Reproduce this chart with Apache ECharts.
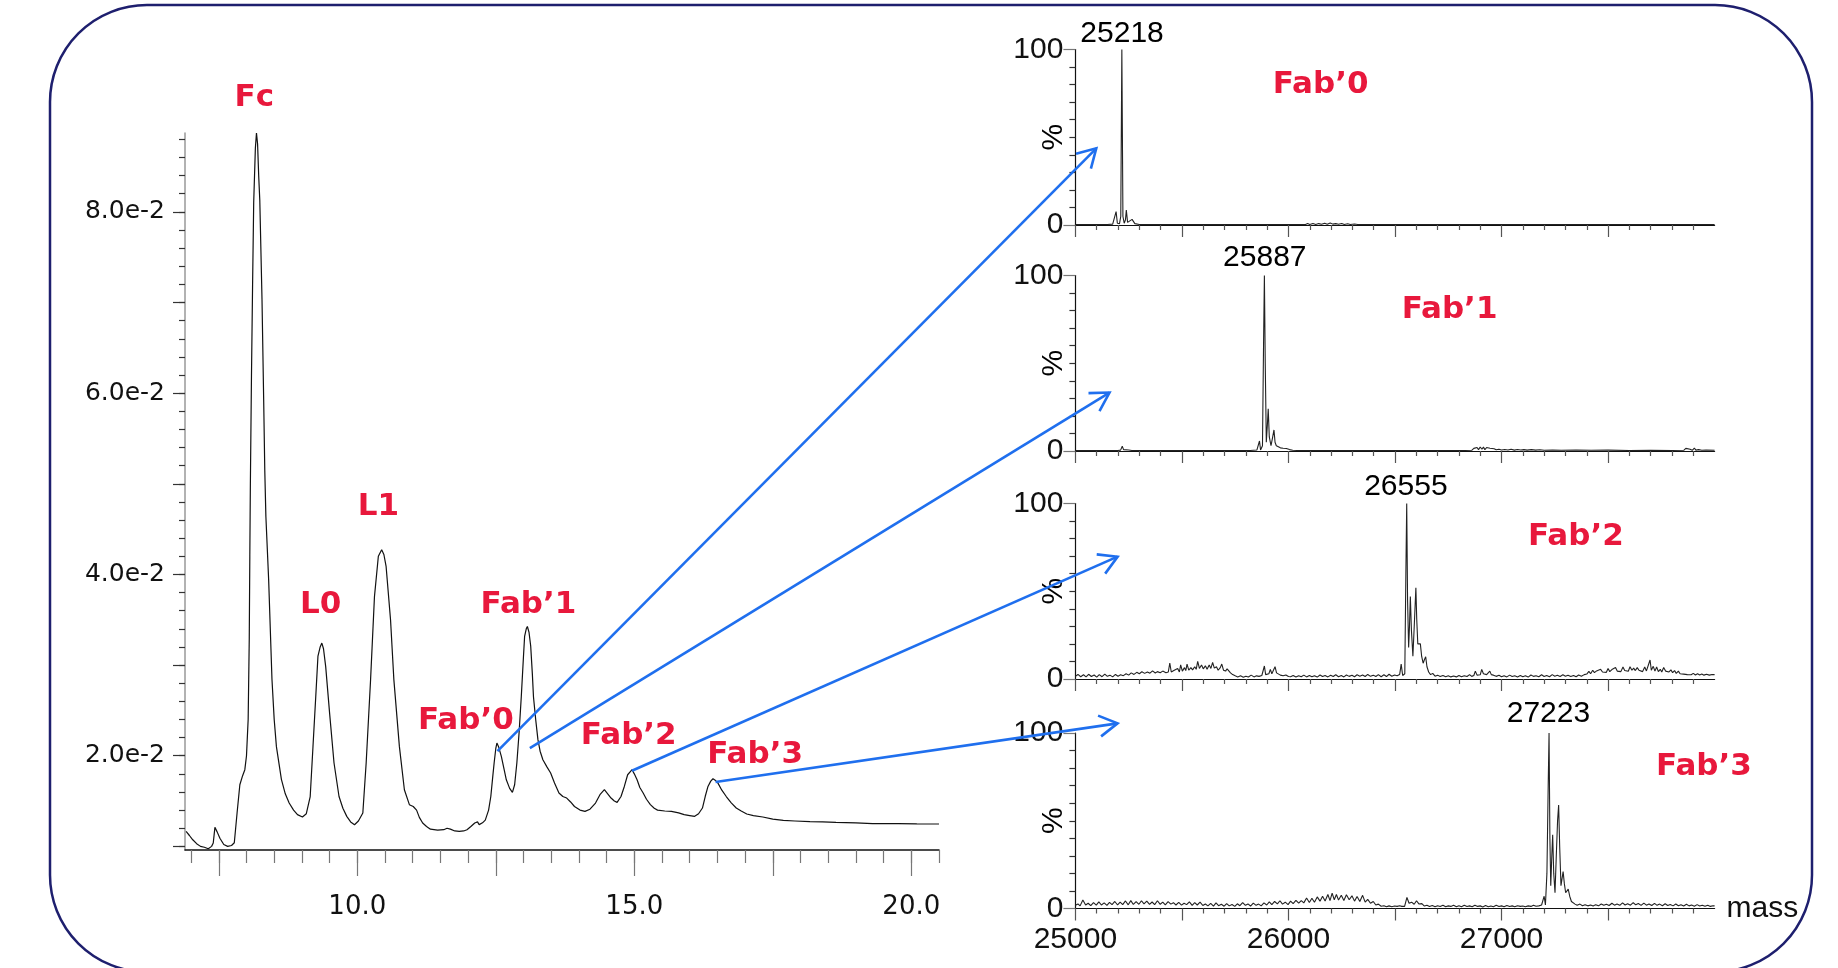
<!DOCTYPE html>
<html>
<head>
<meta charset="utf-8">
<script src="https://cdn.jsdelivr.net/npm/echarts@6/dist/echarts.min.js"></script>
<style>
html,body{margin:0;padding:0;background:#fff;}
#c{width:1838px;height:968px;}
</style>
</head>
<body>
<div id="c"></div>
<script>
// ---------------- Chromatogram (left) ----------------
const chromTime = [6.91,6.97,7.03,7.10,7.17,7.20,7.24,7.31,7.37,7.40,7.43,7.47,7.52,7.59,7.66,7.73,7.78,7.83,7.88,7.93,7.97,
  8.00,8.03,8.05,8.06,8.07,8.09,8.11,8.13,8.16,8.18,8.20,8.22,8.24,8.28,8.31,8.33,8.35,8.40,8.46,8.50,8.54,8.63,8.70,8.77,8.85,8.92,9.01,9.08,
  9.15,9.20,9.25,9.29,9.33,9.36,9.39,9.43,9.50,9.58,9.67,9.74,9.81,9.88,9.95,10.02,
  10.10,10.16,10.24,10.31,10.38,10.44,10.48,10.52,10.60,10.66,10.76,10.85,10.94,11.01,11.04,11.07,11.12,11.18,11.25,11.32,11.45,11.56,11.62,11.68,11.76,11.84,11.92,11.98,12.05,12.12,12.17,12.20,12.26,12.31,12.37,12.41,12.45,12.47,12.50,12.52,12.55,12.60,12.65,12.69,12.75,12.80,
  12.84,12.88,12.92,12.96,13.00,13.02,13.05,13.07,13.10,13.13,13.16,13.18,13.22,13.26,13.30,13.35,13.42,13.49,13.56,13.64,13.71,13.78,13.85,13.92,14.02,14.11,
  14.20,14.30,14.38,14.46,14.52,14.58,14.64,14.69,14.76,14.82,14.88,14.96,15.00,15.05,15.10,15.16,15.22,15.29,15.36,15.42,15.55,15.67,15.80,15.90,16.00,16.09,
  16.16,16.23,16.28,16.33,16.38,16.42,16.46,16.51,16.58,16.66,16.75,16.84,16.93,17.03,17.15,17.32,17.50,17.69,17.90,18.17,18.40,18.64,19.00,19.30,19.77,20.10,20.50];
const chromAbs = [0.01165,0.0112,0.01073,0.0103,0.0100,0.0101,0.0099,0.00974,0.0100,0.01037,0.0121,0.0116,0.0109,0.0102,0.0100,0.0101,0.0104,0.01368,0.0168,0.0178,0.01846,
  0.0200,0.0240,0.0330,0.0420,0.0500,0.0620,0.0720,0.0810,0.0870,0.0887,0.0875,0.0840,0.0813,0.0703,0.0593,0.0515,0.0464,0.0394,0.0284,0.0240,0.0210,0.0174,0.0158,0.01478,0.0140,0.0135,0.01324,0.0136,
  0.0155,0.0210,0.0265,0.0310,0.0320,0.03243,0.0318,0.0298,0.0247,0.0192,0.0155,0.0142,0.01331,0.0127,0.01239,0.0128,
  0.01368,0.0192,0.0284,0.03757,0.0420,0.04273,0.0422,0.04088,0.0350,0.0284,0.0210,0.01625,0.0146,0.0144,0.0145,0.0140,0.0132,0.01258,0.0122,0.0119,0.0118,0.01184,0.0120,0.0119,0.0117,0.01165,0.0117,0.01184,0.0122,0.01258,0.0127,0.0124,0.0126,0.0129,0.0140,0.0155,0.0180,0.0192,0.0208,0.0214,0.0210,0.01993,0.0185,0.01735,0.0164,0.01595,
  0.0168,0.0192,0.0225,0.0265,0.0310,0.03316,0.0340,0.03426,0.0336,0.0321,0.0290,0.0265,0.0240,0.0218,0.0205,0.01956,0.0188,0.0181,0.0170,0.01589,0.0155,0.01533,0.0149,0.0144,0.0140,0.01386,
  0.0141,0.01478,0.0157,0.01625,0.0158,0.01533,0.0150,0.01485,0.0155,0.01661,0.0179,0.01846,0.0180,0.01735,0.0165,0.01589,0.0152,0.0146,0.0142,0.0140,0.0139,0.01386,0.0137,0.0135,0.0134,0.01331,
  0.0136,0.01423,0.0155,0.01661,0.0172,0.01746,0.0173,0.01698,0.0162,0.0155,0.0148,0.01423,0.0139,0.01357,0.0134,0.01324,0.0130,0.01286,0.0128,0.01272,0.0127,0.01264,0.0126,0.0125,0.0125,0.01248,0.01247];

const chromXMajorTicks = [7.5,10,12.5,15,17.5,20];
const chromXMinorTicks = [7,7.5,8,8.5,9,9.5,10,10.5,11,11.5,12,12.5,13,13.5,14,14.5,15,15.5,16,16.5,17,17.5,18,18.5,19,19.5,20,20.5];
const chromXLabels = [10,15,20];
const chromYMajorTicks = [0.01,0.02,0.03,0.04,0.05,0.06,0.07,0.08];
const chromYMinorTicks = [0.010,0.012,0.014,0.016,0.018,0.020,0.022,0.024,0.026,0.028,0.030,0.032,0.034,0.036,0.038,0.040,0.042,0.044,0.046,0.048,0.050,0.052,0.054,0.056,0.058,0.060,0.062,0.064,0.066,0.068,0.070,0.072,0.074,0.076,0.078,0.080,0.082,0.084,0.086,0.088];
const chromYLabels = [0.02,0.04,0.06,0.08];

const chromLabels = ['Fc','L0','L1','Fab\u20190','Fab\u20191','Fab\u20192','Fab\u20193'];
const chromLabelX = [8.14,9.34,10.38,11.96,13.09,14.90,17.18];
const chromLabelY = [0.0926,0.03666,0.04747,0.02386,0.03666,0.02221,0.02011];

// ---------------- Mass spectra (right) ----------------
const specFab0 = [[25000,0.3],[25150,0.3],[25175,0.5],[25184,1.5],[25191,7.6],[25197,1.0],[25207,0.8],[25213,5],[25218,100],[25223,5],[25229,1.0],[25235,3],[25239,8.5],[25245,1.5],[25254,2.5],[25266,3.2],[25279,0.8],[25300,0.3],
  [25600,0.2],[26000,0.3],[26080,0.3],[26090,0.8],[26100,0.3],[26115,0.9],[26128,0.3],[26142,0.8],[26155,0.4],[26170,1.0],[26182,0.4],[26196,1.2],[26208,0.5],[26222,0.8],[26235,0.4],[26250,0.9],[26262,0.3],[26278,0.7],[26290,0.3],[26310,0.6],[26325,0.3],
  [26540,0.3],[26547,0.9],[26555,0.3],[26800,0.3],[27145,0.3],[27153,0.9],[27162,0.3],[27600,0.3],[27895,0.3],[27904,0.9],[27913,0.3],[28000,0.3]];

const specFab1 = [[25000,0.2],[25100,0.2],[25200,0.3],[25212,0.5],[25220,2.7],[25226,0.8],[25235,0.5],[25250,0.6],[25265,0.3],[25400,0.2],[25700,0.2],[25820,0.3],[25852,0.6],
  [25864,5.7],[25869,0.6],[25878,3],[25883,60],[25887,100],[25891,50],[25896,5],[25901,15],[25905,24],[25910,8],[25918,3],[25926,8],[25932,12],[25937,5],[25943,3],[25950,2.2],[25962,1.8],[25975,1.6],[25990,1.4],[26005,0.8],[26020,0.4],[26040,0.3],
  [26300,0.2],[26600,0.2],[26830,0.3],[26860,0.4],[26870,1.5],[26878,0.6],[26885,2.0],[26892,0.8],[26900,2.3],[26908,1.0],[26915,2.2],[26922,0.8],[26930,2.0],[26938,0.9],[26946,1.6],[26955,0.8],[26965,1.3],[26975,0.7],[26988,1.0],
  [27000,0.6],[27015,0.9],[27030,0.6],[27045,1.0],[27060,0.5],[27075,0.9],[27090,0.6],[27105,0.8],[27120,0.5],[27140,0.8],[27160,0.5],[27180,0.7],[27200,0.4],[27240,0.6],[27280,0.4],[27350,0.6],[27420,0.4],[27500,0.5],[27600,0.3],[27700,0.4],[27800,0.3],
  [27855,0.4],[27865,1.5],[27872,0.5],[27885,1.0],[27895,0.4],[27905,1.7],[27912,0.5],[27925,0.8],[27940,0.4],[27960,0.6],[28000,0.4]];

const specFab2 = [[25000,1.5],[25012,2.6],[25025,1.3],[25038,2.4],[25050,1.2],[25062,2.7],[25075,1.4],[25088,2.3],[25100,1.1],[25112,2.5],[25125,1.3],[25138,2.8],[25150,1.5],[25162,2.2],[25175,1.2],[25188,2.6],[25200,1.6],[25212,2.4],[25225,1.9],[25238,3.0],
  [25250,2.2],[25262,3.5],[25275,2.6],[25288,3.8],[25300,3.0],[25312,4.1],[25325,3.2],[25338,4.0],[25350,3.3],[25362,4.6],[25375,3.4],[25385,4.2],[25398,3.6],[25410,4.5],[25425,3.6],[25436,4.0],
  [25443,9.0],[25450,4.0],[25462,4.8],[25470,3.8],[25480,6.0],[25488,4.0],[25494,8.0],[25502,4.5],[25512,6.5],[25518,4.8],[25524,8.5],[25532,5.0],[25542,6.5],[25550,5.2],[25560,7.0],[25567,5.5],[25574,10.0],[25582,6.0],[25592,8.0],[25600,5.8],
  [25610,7.5],[25618,5.5],[25628,8.0],[25636,6.0],[25644,9.5],[25652,6.2],[25662,7.0],[25670,5.0],[25680,6.5],[25687,8.5],[25695,5.0],[25705,4.5],[25712,5.8],[25719,6.6],[25728,3.5],[25738,2.5],[25750,1.8],[25762,1.2],[25775,1.8],[25788,1.0],
  [25800,1.6],[25812,1.1],[25825,2.2],[25838,1.2],[25850,1.8],[25862,1.5],[25875,2.0],[25887,7.4],[25893,2.5],[25900,3.5],[25908,3.0],[25915,5.5],[25922,3.0],[25930,4.0],[25937,7.0],[25944,3.5],[25952,3.0],[25962,2.2],[25975,1.8],[25988,2.3],
  [26000,1.4],[26010,1.3],[26022,2.0],[26035,1.1],[26048,1.9],[26060,1.3],[26072,2.2],[26085,1.2],[26098,2.0],[26110,1.3],[26122,1.9],[26135,1.1],[26148,2.3],[26160,1.4],[26172,2.0],[26185,1.2],[26198,2.1],[26210,1.4],[26222,2.4],[26235,1.3],
  [26248,2.0],[26260,1.2],[26272,2.3],[26285,1.5],[26298,2.1],[26310,1.3],[26322,2.4],[26335,1.6],[26348,2.3],[26360,1.4],[26372,2.6],[26385,1.5],[26398,2.2],[26410,1.4],[26422,2.5],[26435,1.3],[26448,2.4],[26460,1.4],[26472,2.7],[26485,1.6],
  [26498,2.3],[26510,1.8],[26522,2.6],[26529,8.5],[26536,2.0],[26546,3],[26551,60],[26555,100],[26559,45],[26564,18],[26568,30],[26572,47],[26577,28],[26584,13],[26591,32],[26598,52],[26602,34],[26607,20],[26613,19],[26619,20],[26625,13],
  [26632,9],[26638,11],[26644,12.7],[26650,7],[26658,4],[26667,2.5],[26677,3.2],[26688,1.6],[26700,2.2],[26712,1.4],[26725,2.0],[26738,1.3],[26750,1.8],[26762,1.2],[26775,1.7],[26788,1.2],[26800,2.0],[26812,1.3],[26825,1.9],[26838,1.4],
  [26850,2.5],[26860,1.5],[26870,2.0],[26877,4.5],[26885,2.2],[26893,3.0],[26900,2.4],[26907,5.5],[26915,3.0],[26922,3.4],[26930,2.5],[26938,3.6],[26945,4.5],[26952,2.5],[26962,2.2],[26975,1.5],[26988,2.1],
  [27000,1.3],[27012,1.9],[27025,1.2],[27038,2.2],[27050,1.4],[27062,1.8],[27075,1.2],[27088,2.0],[27100,1.3],[27112,1.8],[27125,1.1],[27138,2.3],[27150,1.5],[27162,1.9],[27175,1.3],[27188,2.4],[27200,1.4],[27212,2.0],[27225,1.3],[27238,2.5],
  [27250,1.6],[27262,2.1],[27275,1.4],[27288,2.4],[27300,1.6],[27312,2.2],[27325,1.4],[27338,2.0],[27350,1.3],[27362,2.3],[27375,1.6],[27388,2.5],[27400,2.8],[27410,4.3],[27418,3.0],[27428,5.0],[27436,3.6],[27446,4.6],[27455,3.8],[27465,5.5],
  [27474,4.0],[27483,5.0],[27492,3.8],[27500,6.0],[27508,4.2],[27518,5.4],[27526,4.5],[27535,6.5],[27543,4.5],[27552,5.6],[27560,4.2],[27570,6.8],[27578,4.8],[27586,5.5],[27595,4.4],[27603,7.0],[27612,5.0],[27620,6.2],[27628,4.8],[27637,6.5],
  [27645,5.0],[27654,5.5],[27662,4.2],[27672,6.8],[27680,4.6],[27688,5.2],[27697,10.8],[27703,5.0],[27712,7.2],[27720,4.5],[27728,6.8],[27736,4.2],[27745,5.5],[27752,4.0],[27761,6.5],[27770,4.5],[27778,5.6],[27786,4.0],[27795,5.2],[27803,3.6],
  [27812,4.8],[27820,3.2],[27830,4.5],[27838,3.0],[27847,4.0],[27855,2.8],[27864,3.6],[27872,2.5],[27880,3.4],[27890,2.4],[27900,3.2],[27910,2.3],[27920,3.0],[27930,2.3],[27940,2.8],[27950,2.2],[27962,2.7],[27975,2.2],[27988,2.6],[28000,2.5]];

const specFab3 = [[25000,1.8],[25012,2.6],[25022,1.5],[25035,4.8],[25048,2.0],[25060,3.0],[25072,1.6],[25085,3.4],[25098,1.9],[25110,3.8],[25122,2.0],[25135,3.2],[25148,1.8],[25160,3.5],[25172,2.2],[25185,4.0],[25198,2.0],[25210,3.6],[25222,2.2],[25235,4.3],
  [25248,2.1],[25260,4.5],[25272,2.3],[25285,3.9],[25298,2.4],[25310,4.4],[25322,2.6],[25335,4.2],[25348,2.3],[25360,3.7],[25372,2.2],[25385,4.4],[25398,2.4],[25410,3.6],[25422,2.1],[25435,3.9],[25448,2.5],[25460,3.3],[25472,2.0],[25485,3.5],
  [25498,1.9],[25510,3.0],[25522,2.2],[25535,3.8],[25548,1.8],[25560,3.3],[25572,2.0],[25585,3.6],[25598,1.7],[25610,2.6],[25622,1.5],[25635,2.9],[25648,1.4],[25660,3.2],[25672,1.6],[25685,2.4],[25698,1.3],[25710,2.8],[25722,1.5],[25735,2.3],
  [25748,1.2],[25760,2.7],[25772,1.6],[25785,3.4],[25798,1.8],[25810,2.6],[25822,1.4],[25835,3.1],[25848,1.8],[25860,2.5],[25872,1.5],[25885,3.2],[25898,2.0],[25910,3.8],[25922,2.2],[25935,4.0],[25948,2.6],[25960,4.4],[25972,2.5],[25985,3.6],
  [25998,2.2],[26010,4.2],[26022,2.8],[26035,4.6],[26048,3.0],[26060,4.5],[26072,3.2],[26085,6.0],[26098,3.4],[26110,5.8],[26122,3.6],[26135,6.6],[26148,4.2],[26160,7.0],[26172,4.3],[26185,8.0],[26195,4.5],[26205,8.8],[26215,5.0],[26225,8.0],
  [26235,4.8],[26248,7.6],[26260,4.6],[26272,7.8],[26285,5.0],[26298,7.2],[26310,4.2],[26322,6.8],[26335,4.0],[26348,7.5],[26360,3.6],[26372,5.2],[26385,3.0],[26398,4.0],[26410,2.0],[26422,2.5],[26435,1.3],[26448,1.6],[26460,1.0],[26472,1.5],
  [26485,1.0],[26498,1.4],[26510,1.2],[26522,1.6],[26532,1.2],[26545,1.2],[26556,6.3],[26566,3.0],[26578,3.6],[26590,2.4],[26601,4.4],[26612,2.6],[26626,2.8],[26638,1.4],[26650,1.8],[26662,1.1],[26675,1.7],[26688,1.0],[26700,1.6],[26712,1.1],
  [26725,1.9],[26738,1.0],[26750,1.5],[26762,1.2],[26775,1.8],[26788,1.0],[26800,1.6],[26812,1.0],[26825,1.8],[26838,1.1],[26850,1.5],[26862,1.0],[26875,1.9],[26888,1.2],[26900,1.5],[26912,0.9],[26925,1.7],[26938,1.0],[26950,1.4],[26962,1.0],
  [26975,1.8],[26988,1.1],[27000,1.5],[27012,1.0],[27025,1.7],[27038,1.1],[27050,1.5],[27062,1.0],[27075,1.6],[27088,1.2],[27100,1.4],[27112,1.0],[27125,1.5],[27138,1.2],[27150,1.9],[27162,1.3],[27175,1.5],[27188,2.0],[27200,7.0],[27206,2.0],
  [27213,20],[27219,70],[27223,100],[27227,40],[27231,13],[27236,30],[27240,42],[27245,20],[27251,9],[27257,30],[27263,50],[27268,59],[27273,35],[27279,13],[27284,17],[27289,21],[27295,14],[27301,9],[27307,10],[27313,11],[27320,7],[27328,4],
  [27336,3],[27345,2.5],[27355,1.8],[27368,2.5],[27380,1.6],[27392,2.2],[27405,1.5],[27418,2.0],[27430,1.4],[27442,2.2],[27455,1.5],[27468,2.6],[27480,1.8],[27492,2.4],[27505,1.7],[27518,3.0],[27530,1.9],[27542,2.6],[27555,1.8],[27568,3.2],
  [27580,2.0],[27592,2.7],[27605,1.9],[27618,3.3],[27630,2.1],[27642,2.8],[27655,1.8],[27668,3.1],[27680,1.9],[27692,2.6],[27705,1.7],[27718,2.9],[27730,1.8],[27742,2.5],[27755,1.6],[27768,2.7],[27780,1.7],[27792,2.3],[27805,1.5],[27818,2.6],
  [27830,1.6],[27842,2.2],[27855,1.4],[27868,2.4],[27880,1.5],[27892,2.0],[27905,1.3],[27918,2.2],[27930,1.4],[27942,1.9],[27955,1.3],[27968,1.8],[27980,1.2],[27992,1.6],[28000,1.5]];

const spectra = [specFab0, specFab1, specFab2, specFab3];
const massMajorTicks = [25000,25500,26000,26500,27000,27500];
const massLabels = [25000,26000,27000];
const specNames = ['Fab\u20190','Fab\u20191','Fab\u20192','Fab\u20193'];
const specNameMass = [26151,26756,27349,27950];
const specNamePct = [80.0,80.3,81.2,80.6];
const peakLabels = ['25218','25887','26555','27223'];
const peakLabelMass = [25219,25889,26551,27220];
const peakLabelPct = [108.8,110.3,109.8,111.0];
const pctAxisName = '%';
const pctNameMass = 24900;
const pctNamePct = 50;

// arrows: start on chromatogram (time, abs), end on spectrum (mass, %)
const arrowFrom = [[12.53,0.0205],[13.115,0.02085],[14.957,0.01835],[16.467,0.0171]];
const arrowTo = [[25098,43.7],[25160,33.3],[25198,69.7],[25198,105.5]];

// ---------------- Build chart ----------------
const FONT_L = 'DejaVu Sans';
const FONT_R = 'Liberation Sans';
const RED = '#e8183c';
const BLUE = '#1f6fee';
const INVISIBLE = {color:'rgba(0,0,0,0)', opacity:1};

const specTops = [49.5, 275.5, 503.5, 733];
const grid = [{left:185, top:133, width:754, height:717}];
specTops.forEach(t => grid.push({left:1075.4, top:t, width:639.2, height:175.5}));

const xAxis = [
  {gridIndex:0, type:'value', min:6.89, max:20.5, position:'bottom',
   axisLine:{show:true, onZero:false, lineStyle:{color:'#111', width:1.5}},
   axisTick:{show:true, customValues:chromXMajorTicks, length:26, lineStyle:{color:'#777', width:1.2}},
   axisLabel:{customValues:chromXLabels, formatter:v=>Number(v).toFixed(1), fontFamily:FONT_L, fontSize:26, color:'#111', margin:44},
   splitLine:{show:false}},
  {gridIndex:0, type:'value', min:6.89, max:20.5, position:'bottom',
   axisLine:{show:false, onZero:false},
   axisTick:{show:true, customValues:chromXMinorTicks, length:13, lineStyle:{color:'#777', width:1.2}},
   axisLabel:{show:false}, splitLine:{show:false}}
];
const yAxis = [
  {gridIndex:0, type:'value', min:0.0096, max:0.0887, position:'left',
   axisLine:{show:true, onZero:false, lineStyle:{color:'#999', width:1.5}},
   axisTick:{show:true, customValues:chromYMajorTicks, length:12, lineStyle:{color:'#333', width:1.2}},
   axisLabel:{customValues:chromYLabels, formatter:v=>(v*100).toFixed(1)+'e-2', fontFamily:FONT_L, fontSize:25, color:'#111', margin:20},
   splitLine:{show:false}},
  {gridIndex:0, type:'value', min:0.0096, max:0.0887, position:'left',
   axisLine:{show:false, onZero:false},
   axisTick:{show:true, customValues:chromYMinorTicks, length:6, lineStyle:{color:'#333', width:1.2}},
   axisLabel:{show:false}, splitLine:{show:false}}
];
for (let k = 0; k < 4; k++) {
  xAxis.push({gridIndex:k+1, type:'value', min:25000, max:28000, interval:500, position:'bottom',
    axisLine:{show:true, onZero:false, lineStyle:{color:'#111', width:1.2}},
    axisTick:{show:true, customValues:massMajorTicks, length:12, lineStyle:{color:'#555', width:1.2}},
    minorTick:{show:true, splitNumber:5, length:5, lineStyle:{color:'#555', width:1.2}},
    axisLabel: k === 3 ? {customValues:massLabels, formatter:v=>String(v), fontFamily:FONT_R, fontSize:30, color:'#111', margin:16} : {show:false},
    name: k === 3 ? 'mass' : '', nameLocation:'end', nameGap:12,
    nameTextStyle:{fontFamily:FONT_R, fontSize:30, color:'#111'},
    splitLine:{show:false}});
  yAxis.push({gridIndex:k+1, type:'value', min:0, max:100, interval:100, position:'left',
    axisLine:{show:true, onZero:false, lineStyle:{color:'#111', width:1.2}},
    axisTick:{show:true, length:12, lineStyle:{color:'#777', width:1.2}},
    minorTick:{show:true, splitNumber:10, length:6, lineStyle:{color:'#333', width:1.2}},
    axisLabel:{fontFamily:FONT_R, fontSize:30, color:'#111', margin:12},
    splitLine:{show:false}});
}

const series = [
  {type:'line', xAxisIndex:0, yAxisIndex:0, data:chromTime.map((t,i)=>[t, chromAbs[i]]),
   showSymbol:false, symbol:'none', clip:false, silent:true, animation:false,
   lineStyle:{color:'#111', width:1.2}},
  {type:'scatter', xAxisIndex:0, yAxisIndex:0, silent:true, animation:false, clip:false,
   symbolSize:1, itemStyle:INVISIBLE,
   data:chromLabels.map((n,i)=>({name:n, value:[chromLabelX[i], chromLabelY[i]]})),
   label:{show:true, position:'inside', formatter:p=>p.name, color:RED, fontFamily:FONT_L, fontWeight:'bold', fontSize:31, opacity:1}}
];
for (let k = 0; k < 4; k++) {
  series.push({type:'line', xAxisIndex:k+2, yAxisIndex:k+2, data:spectra[k],
    showSymbol:false, symbol:'none', silent:true, animation:false, clip:false,
    lineStyle:{color:'#222', width:1.1}});
  series.push({type:'scatter', xAxisIndex:k+2, yAxisIndex:k+2, silent:true, animation:false, clip:false,
    symbolSize:1, itemStyle:INVISIBLE,
    data:[
      {name:peakLabels[k], value:[peakLabelMass[k], peakLabelPct[k]],
       label:{color:'#000', fontFamily:FONT_R, fontSize:30, fontWeight:'normal'}},
      {name:specNames[k], value:[specNameMass[k], specNamePct[k]],
       label:{color:RED, fontFamily:FONT_L, fontSize:31, fontWeight:'bold'}},
      {name:pctAxisName, value:[pctNameMass, pctNamePct],
       label:{color:'#000', fontFamily:FONT_R, fontSize:30, fontWeight:'normal', rotate:90}}
    ],
    label:{show:true, position:'inside', formatter:p=>p.name, opacity:1}});
}

const chart = echarts.init(document.getElementById('c'), null, {renderer:'canvas'});
chart.setOption({
  backgroundColor:'#fff',
  animation:false,
  grid, xAxis, yAxis, series,
  graphic:[{id:'frame', type:'rect', z:0, silent:true,
    shape:{x:50, y:5, width:1762, height:967, r:97},
    style:{fill:'none', stroke:'#1e1f6e', lineWidth:2.5}}]
});

// arrows between coordinate systems
const arrowGraphics = [];
arrowFrom.forEach((a, i) => {
  const p1 = chart.convertToPixel({xAxisIndex:0, yAxisIndex:0}, a);
  const p2 = chart.convertToPixel({xAxisIndex:i+2, yAxisIndex:i+2}, arrowTo[i]);
  const ang = Math.atan2(p2[1]-p1[1], p2[0]-p1[0]);
  const L = 21, spread = Math.PI/6;
  const h1 = [p2[0] + L*Math.cos(ang+Math.PI-spread), p2[1] + L*Math.sin(ang+Math.PI-spread)];
  const h2 = [p2[0] + L*Math.cos(ang+Math.PI+spread), p2[1] + L*Math.sin(ang+Math.PI+spread)];
  arrowGraphics.push({id:'arr'+i, type:'line', z:50, silent:true,
    shape:{x1:p1[0], y1:p1[1], x2:p2[0], y2:p2[1]},
    style:{stroke:BLUE, lineWidth:2.6}});
  arrowGraphics.push({id:'head'+i, type:'polyline', z:50, silent:true,
    shape:{points:[h1, p2, h2]},
    style:{stroke:BLUE, lineWidth:2.6, fill:'none'}});
});
chart.setOption({graphic:arrowGraphics});
</script>
</body>
</html>
